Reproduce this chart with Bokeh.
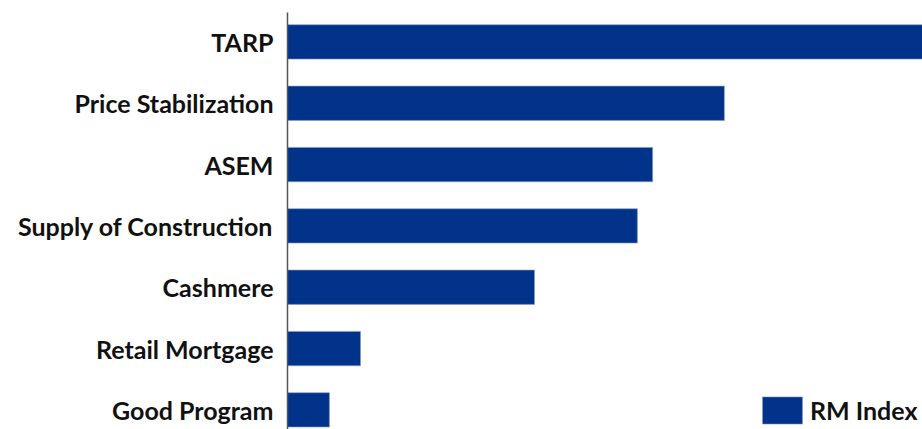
from bokeh.plotting import figure
from bokeh.models import Range1d, FixedTicker, Legend, LegendItem, ColumnDataSource
from bokeh.embed import file_html
from bokeh.resources import INLINE

categories = ["Good Program", "Retail Mortgage", "Cashmere", "Supply of Construction",
              "ASEM", "Price Stabilization", "TARP"]
rm_index = [6.6, 11.5, 38.9, 55.1, 57.5, 68.8, 100.0]
series_name = "RM Index"

positions = list(range(len(categories)))
src = ColumnDataSource(dict(y=positions, right=rm_index, cat=categories))

p = figure(width=922, height=429, output_backend="svg", toolbar_location=None,
           x_range=Range1d(0, 100), y_range=Range1d(-0.32, 6.48),
           min_border_left=287, min_border_right=0, min_border_top=12, min_border_bottom=0)

r = p.hbar(y="y", left=0, right="right", height=0.56, source=src,
           fill_color="#003389", line_color="#8a9cc4", line_width=0.6)

p.xaxis.visible = False
p.xgrid.visible = False
p.ygrid.visible = False
p.outline_line_color = None

ax = p.yaxis[0]
ax.ticker = FixedTicker(ticks=positions)
ax.major_label_overrides = {i: c for i, c in zip(positions, categories)}
ax.major_tick_line_color = None
ax.minor_tick_line_color = None
ax.major_tick_out = 0
ax.major_tick_in = 0
ax.axis_line_color = "#555555"
ax.axis_line_width = 1.5
ax.major_label_standoff = 14
ax.major_label_text_font = "Lato"
ax.major_label_text_font_style = "bold"
ax.major_label_text_font_size = "25px"
ax.major_label_text_color = "#111111"

legend = Legend(items=[LegendItem(label=series_name, renderers=[r])],
                location=(470, 2), padding=0, margin=0, spacing=0,
                glyph_width=50, glyph_height=34, label_standoff=3,
                background_fill_alpha=0, border_line_color=None,
                label_text_font="Lato", label_text_font_style="bold",
                label_text_font_size="25px", label_text_color="#111111")
p.add_layout(legend)

open("out.html", "w").write(file_html(p, INLINE))
